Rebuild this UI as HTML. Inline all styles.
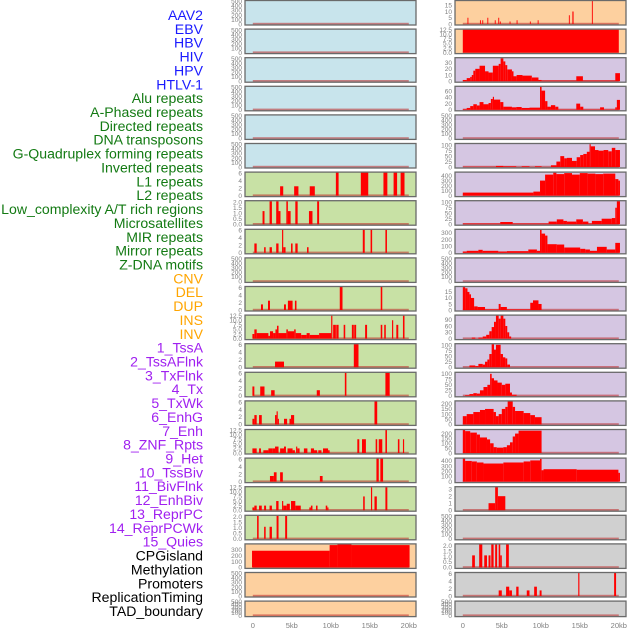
<!DOCTYPE html>
<html><head><meta charset="utf-8">
<style>
html,body{margin:0;padding:0;background:#fff;}
svg{display:block;font-family:"Liberation Sans",sans-serif;}
</style></head>
<body>
<svg id="chart" width="630" height="630" viewBox="0 0 630 630" xmlns="http://www.w3.org/2000/svg">
<g id="labels"></g>
<g id="panels"></g>
<g id="xaxes"></g>
</svg>
<script>
const trackNames = ["AAV2","EBV","HBV","HIV","HPV","HTLV-1","Alu repeats","A-Phased repeats","Directed repeats","DNA transposons","G-Quadruplex forming repeats","Inverted repeats","L1 repeats","L2 repeats","Low_complexity A/T rich regions","Microsatellites","MIR repeats","Mirror repeats","Z-DNA motifs","CNV","DEL","DUP","INS","INV","1_TssA","2_TssAFlnk","3_TxFlnk","4_Tx","5_TxWk","6_EnhG","7_Enh","8_ZNF_Rpts","9_Het","10_TssBiv","11_BivFlnk","12_EnhBiv","13_ReprPC","14_ReprPCWk","15_Quies","CPGisland","Methylation","Promoters","ReplicationTiming","TAD_boundary"];
const trackGroups = [6,13,5,15,5];
const groupColors = ["#1a1aff","#137a13","#ffa500","#a020f0","#000000"];
const xTickValues = [0,5,10,15,20];
const xTickLabels = ["0","5kb","10kb","15kb","20kb"];

const ticks500 = [0,100,200,300,400,500];
const ticks6 = [0,2,4,6];
const ticks2 = [0,0.5,1,1.5,2];
const ticks125 = [0,2.5,5,7.5,10,12.5];

const left7 = [[3.5,3.9,2.5],[5.3,5.85,2.5],[7.3,7.95,2.5],[10.65,11.0,6.2],[13.85,14.8,6.2],[16.75,17.25,6.2],[18.05,18.5,6.2],[18.95,19.45,6.2]];
const left8 = [[1.25,1.5,1.2],[2.15,2.45,2.1],[3.0,3.3,2.1],[3.3,3.55,1.2],[4.3,4.5,2.1],[4.5,4.85,1.2],[5.45,5.75,2.1],[7.2,7.65,1.2],[8.25,8.5,2.1]];
const left9 = [[0.2,0.5,2.5],[1.45,1.65,1.5],[2.15,2.45,1.5],[3.0,3.3,2.5],[3.75,3.9,6.2],[3.9,4.2,1.5],[4.9,5.1,2.5],[5.45,5.75,2.5],[6.95,7.15,1.5],[14.1,14.35,6.2],[15.1,15.3,6.2],[17.0,17.2,6.2]];
const left11 = [[1.05,1.3,1.5],[1.95,2.2,2.5],[4.0,4.25,1.5],[4.5,5.1,2.5],[5.4,5.6,2.5],[11.15,11.5,6.2],[16.4,16.6,6.2]];
const left12 = [[-0.05,0.2,2.5],[0.2,0.5,5],[0.5,2.0,3],[2.0,2.2,1.5],[2.2,2.6,4],[2.6,2.9,3],[2.9,3.1,5],[3.1,3.3,7],[3.3,4.3,3],[4.3,4.5,5],[4.5,5.3,4],[5.3,5.5,5],[5.5,6.2,3],[6.2,6.9,2],[6.9,7.3,3],[7.3,8.5,2],[8.5,9.0,3],[9.0,10.05,3],[10.05,10.2,12.5],[10.3,10.65,7.5],[10.7,11.0,7.5],[11.65,11.85,7.5],[12.7,12.95,7.5],[13.0,13.25,7.5],[14.4,14.65,7.5],[16.4,16.6,7.5],[16.85,17.05,7.5],[17.85,18.0,10],[18.4,18.65,7.5],[19.25,19.45,12.5]];
const left13 = [[2.85,4.0,1.5],[12.95,13.55,6.2]];
const left14 = [[-0.05,0.2,2.5],[0.95,1.5,2.5],[2.35,2.8,1.5],[8.2,8.6,1.5],[11.8,12.0,6.2],[17.0,17.55,6.2]];
const left15 = [[-0.05,0.2,1.5],[0.2,0.5,2.5],[0.8,1.15,2.5],[2.85,3.05,2.5],[3.05,3.2,3.5],[3.2,3.35,1.5],[4.0,4.4,1.5],[4.7,4.9,1.5],[4.9,5.3,2.5],[15.6,15.95,6.2]];
const left16 = [[-0.05,0.5,2.5],[0.8,1.05,2.5],[1.35,2.0,1.5],[2.0,2.55,2.5],[2.55,2.85,2.5],[2.85,3.3,3.5],[3.5,4.0,2.5],[4.0,4.25,3.5],[4.45,5.1,2.5],[5.1,5.4,1.5],[5.55,5.7,3.5],[5.7,6.0,2.5],[6.55,7.0,2.5],[7.45,7.85,2.5],[7.85,8.25,1.5],[8.4,8.8,1.5],[9.0,9.65,2.5],[9.65,9.85,1.5],[13.4,13.65,7.5],[14.0,14.5,7.5],[15.75,15.95,7.5],[16.15,16.6,7.5],[17.0,17.2,12.5],[18.6,18.8,7.5],[19.25,19.4,7.5]];
const left17 = [[2.2,2.7,1.5],[2.7,3.05,2.5],[3.5,3.85,2.5],[8.6,8.95,1.5],[15.85,16.15,6.2],[16.35,16.7,6.2]];
const left18 = [[-0.05,0.2,1.5],[0.2,0.5,2.5],[0.8,1.15,2.5],[1.45,1.7,2.5],[2.15,2.45,2.5],[3.0,3.3,5],[3.75,3.9,5],[3.9,4.35,2.5],[4.35,4.75,3.5],[4.9,5.45,5],[5.45,6.15,2.5],[7.25,7.45,1.5],[7.45,7.65,2.5],[8.1,8.3,2.5],[9.35,9.55,2.5],[9.55,9.7,1.5],[14.15,14.35,7.5],[15.15,15.3,12.5],[15.6,15.9,7.5],[17.0,17.25,12.5]];
const left19 = [[0.55,0.75,2.1],[1.45,1.65,1.1],[2.15,2.45,1.1],[3.05,3.3,2.1],[4.15,4.4,2.1]];
const left20 = [[-0.1,9.85,280],[9.85,10.85,375],[10.85,12.65,385],[12.65,20.1,375]];

const right1 = [[0.6,0.7,5],[2.2,2.3,3],[2.5,2.6,3],[3.15,3.25,5],[4.1,4.2,3],[4.55,4.65,5],[4.75,4.85,2],[6.0,6.1,2],[6.9,7.0,3],[8.6,8.7,2],[9.6,9.7,3],[13.6,13.7,7],[14.05,14.2,10],[16.55,16.65,18.5]];
const right2 = [[0,20,12.5]];
const right3 = [[0,0.5,2],[0.5,0.95,5],[0.95,1.15,7],[1.15,1.35,10],[1.35,1.6,17],[1.6,2.15,20],[2.15,2.85,25],[2.85,3.3,16],[3.3,3.85,14],[3.85,4.6,25],[4.6,4.85,28],[4.85,5.2,37],[5.2,5.45,32],[5.45,5.7,26],[5.7,6.3,19],[6.3,6.5,16],[6.5,6.9,8],[6.9,7.65,10],[7.65,8.85,9],[8.85,9.7,6],[9.7,10.1,2],[10.1,14.55,1],[14.55,15.4,8],[15.4,19.55,1],[19.55,20.15,13]];
const right4 = [[0,0.5,2],[0.5,0.95,6],[0.95,1.35,12],[1.35,1.8,18],[1.8,2.15,14],[2.15,2.65,25],[2.65,3.3,18],[3.3,3.6,22],[3.6,3.85,35],[3.85,4.0,42],[4.0,4.8,33],[4.8,5.2,25],[5.2,6.3,10],[6.3,6.85,8],[6.85,7.55,9],[7.55,8.55,6],[8.55,9.9,7],[9.9,10.1,75],[10.1,10.55,62],[10.55,10.85,28],[10.85,11.3,10],[11.3,11.85,15],[11.85,12.25,10],[12.25,14.55,1],[14.55,15.05,20],[15.05,15.45,10],[15.45,17.6,1],[17.6,18.1,8],[18.1,19.55,1],[19.55,19.75,8],[19.75,20.15,32]];
const right6 = [[0,4.25,1],[4.25,5.2,5],[5.2,6.85,3],[7.55,8.55,3],[9.25,10.1,3],[11.3,12.0,8],[12.0,12.5,25],[12.5,13.0,50],[13.0,13.35,40],[13.35,14.0,42],[14.0,14.6,28],[14.6,15.05,45],[15.05,15.45,55],[15.45,15.9,60],[15.9,16.25,70],[16.25,16.4,105],[16.4,16.95,95],[16.95,17.4,78],[17.4,18.05,75],[18.05,18.65,78],[18.65,19.1,72],[19.1,19.55,88],[19.55,20.15,78]];
const right7 = [[0,9.05,60],[9.05,9.9,80],[9.9,10.55,300],[10.55,11.6,420],[11.6,12.0,460],[12.0,13.0,430],[13.0,14.0,450],[14.0,15.0,420],[15.0,16.0,450],[16.0,17.0,440],[17.0,18.0,430],[18.0,19.55,440],[19.55,19.95,330],[19.95,20.15,300]];
const right8 = [[0,4.8,3],[4.8,6.4,10],[6.4,11.0,3],[11.0,12.05,12],[12.05,12.9,22],[12.9,13.35,15],[13.35,14.55,12],[14.55,15.4,22],[15.4,16.1,12],[16.1,16.55,3],[16.55,17.8,15],[17.8,19.1,25],[19.1,19.55,28],[19.55,19.75,75],[19.75,20.15,105]];
const right9 = [[0,0.5,20],[0.5,2.0,30],[2.0,2.55,45],[2.55,4.55,30],[4.55,5.65,20],[5.65,8.4,25],[8.4,9.5,50],[9.5,9.9,30],[9.9,10.1,350],[10.1,10.55,290],[10.55,10.85,260],[10.85,12.05,130],[12.05,13.0,125],[13.0,15.05,80],[15.05,15.7,60],[15.7,16.3,50],[16.3,17.2,30],[17.2,18.45,90],[18.45,19.55,50],[19.55,20.15,150]];
const right11 = [[0,0.3,19],[0.3,0.6,18],[0.6,0.85,15],[0.85,1.05,13],[1.05,1.45,10],[1.45,1.9,3],[1.9,2.85,2.5],[2.85,4.6,0.5],[4.6,4.85,5],[4.85,5.65,2.5],[5.65,8.65,0.5],[8.65,9.0,6],[9.0,9.7,8],[9.7,10.1,5]];
const right12 = [[1.15,1.6,5],[2.0,2.55,5],[2.55,3.0,10],[3.0,3.4,18],[3.4,3.7,35],[3.7,4.0,55],[4.0,4.25,80],[4.25,4.6,110],[4.6,4.85,95],[4.85,5.2,110],[5.2,5.45,95],[5.45,5.7,60],[5.7,5.95,30],[5.95,6.2,10]];
const right13 = [[0.85,1.6,8],[1.6,2.0,5],[2.0,2.55,15],[2.55,2.85,12],[2.85,3.15,25],[3.15,3.4,35],[3.4,3.7,60],[3.7,4.0,105],[4.0,4.25,80],[4.25,4.85,102],[4.85,5.15,60],[5.15,5.45,45],[5.45,5.7,40],[5.7,6.05,12]];
const right14 = [[0.3,0.85,3],[0.85,1.35,8],[1.35,1.8,12],[1.8,2.2,10],[2.2,2.65,25],[2.65,3.15,40],[3.15,3.5,50],[3.5,3.7,100],[3.7,4.0,80],[4.0,4.45,70],[4.45,5.0,60],[5.0,5.45,50],[5.45,6.05,55],[6.05,6.3,15],[6.3,6.9,5]];
const right15 = [[0,0.5,80],[0.5,1.35,100],[1.35,2.2,120],[2.2,2.85,140],[2.85,3.95,150],[3.95,4.25,120],[4.25,4.6,80],[4.6,5.0,100],[5.0,5.45,150],[5.45,5.75,170],[5.75,6.4,225],[6.4,6.7,170],[6.7,7.8,130],[7.8,8.65,110],[8.65,9.25,90],[9.25,10.1,70]];
const right16 = [[0,0.3,240],[0.3,0.95,225],[0.95,1.8,210],[1.8,2.2,190],[2.2,3.1,160],[3.1,3.5,140],[3.5,3.95,100],[3.95,4.35,60],[4.35,5.2,55],[5.2,5.65,60],[5.65,6.05,80],[6.05,6.4,110],[6.4,6.7,170],[6.7,7.15,200],[7.15,10.1,230]];
const right17 = [[0,0.3,450],[0.3,1.15,400],[1.15,1.8,390],[1.8,2.65,370],[2.65,5.2,350],[5.2,7.8,370],[7.8,8.65,390],[8.65,9.9,410],[9.9,10.1,440],[10.1,10.35,220],[10.35,14.6,240],[14.6,19.95,230],[19.95,20.15,170]];
const right18 = [[3.3,4.15,1],[4.15,4.5,3.3],[4.5,5.45,2]];
const right20 = [[1.2,1.55,1.1],[2.1,2.5,2.1],[2.75,3.1,1.1],[3.3,3.55,1.1],[3.65,3.95,2.1],[4.15,4.4,2.1],[4.6,4.8,2.1],[4.8,5.0,1.1],[5.55,5.9,2.1]];
const right21 = [[4.6,5.0,1.5],[5.55,5.95,2.5],[5.95,6.3,1.5],[6.85,7.15,2.5],[8.2,8.55,1.5],[9.15,9.5,2.5],[9.85,10.1,1.5],[14.8,14.95,6.2],[19.4,19.65,6.2]];

const BLUE="#c8e4ec", GREEN="#c8e1a5", PEACH="#fdd09f", LAV="#d5c6e2", GREY="#d0d0d0";
const leftPanels = [
 [[],520,ticks500,BLUE],[[],520,ticks500,BLUE],[[],520,ticks500,BLUE],[[],520,ticks500,BLUE],[[],520,ticks500,BLUE],[[],520,ticks500,BLUE],
 [left7,6.3,ticks6,GREEN],[left8,2.15,ticks2,GREEN],[left9,6.3,ticks6,GREEN],[[],520,ticks500,GREEN],[left11,6.3,ticks6,GREEN],
 [left12,12.8,ticks125,GREEN],[left13,6.3,ticks6,GREEN],[left14,6.3,ticks6,GREEN],[left15,6.3,ticks6,GREEN],[left16,12.8,ticks125,GREEN],
 [left17,6.3,ticks6,GREEN],[left18,12.8,ticks125,GREEN],[left19,2.15,ticks2,GREEN],
 [left20,395,[0,100,200,300],PEACH],[[],520,ticks500,PEACH],[[],520,ticks500,PEACH]
];
const rightPanels = [
 [right1,18.8,[0,5,10,15],PEACH],[right2,12.8,ticks125,PEACH],
 [right3,38,[0,10,20,30],LAV],[right4,76,[0,20,40,60],LAV],[[],520,ticks500,LAV],[right6,108,[0,25,50,75,100],LAV],
 [right7,470,[0,100,200,300,400],LAV],[right8,107,[0,25,50,75,100],LAV],[right9,355,[0,100,200,300],LAV],[[],520,ticks500,LAV],
 [right11,19.5,[0,5,10,15],LAV],[right12,112,[0,30,60,90],LAV],[right13,107,[0,25,50,75,100],LAV],[right14,107,[0,25,50,75,100],LAV],
 [right15,228,[0,50,100,150,200],LAV],[right16,242,[0,50,100,150,200],LAV],[right17,455,[0,100,200,300,400],LAV],
 [right18,3.35,[0,1,2,3],GREY],[[],520,ticks500,GREY],[right20,2.15,ticks2,GREY],[right21,6.3,ticks6,GREY],[[],520,ticks500,GREY]
];

const NS="http://www.w3.org/2000/svg";
function mk(tag, attrs, parent){const e=document.createElementNS(NS,tag);for(const k in attrs)e.setAttribute(k,attrs[k]);parent.appendChild(e);return e;}

const labG=document.getElementById('labels');
let gi=0, cnt=0;
trackNames.forEach((n,i)=>{
  while(cnt>=trackGroups[gi]){cnt-=trackGroups[gi];gi++;}
  cnt++;
  const t=mk('text',{x:203,y:20+i*13.86,'text-anchor':'end','font-size':'14.1',fill:groupColors[gi]},labG);
  
  
  t.textContent=n;
});

const pg=document.getElementById('panels');
function drawPanel(spec,i,x0,side){
  const [bars,ymax,ticks,bg]=spec;
  const top=0.5+i*28.6, h=(i===21)?15.5:24.5, w=171;
  const xs=kb=>x0+7.8+kb*7.8;
  const ys=v=>top+h-1-(v/ymax)*(h-1);
  const g=mk('g',{},pg);
  
  
  const bgR=mk('rect',{x:x0,y:top,width:w,height:h,fill:bg},g);
  
  
  mk('rect',{x:xs(0),y:top+h-2.2,width:xs(20)-xs(0),height:2,fill:'rgba(190,40,40,0.55)'},g);
  bars.forEach(b=>{
    const x1=Math.max(xs(b[0]),x0+0.5), x2=Math.min(xs(b[1]),x0+w-0.5);
    const y=Math.max(ys(Math.min(b[2],ymax)),top);
    const r=mk('rect',{x:x1,y:y,width:Math.max(x2-x1,0.9),height:top+h-1-y,fill:'#ff0000'},g);
    
    
  });
  mk('rect',{x:x0,y:top,width:w,height:h,fill:'none',stroke:'#6a6a6a','stroke-width':1.3},g);
  ticks.forEach(t=>{
    const y=ys(t);
    const tx=mk('text',{x:x0-3,y:y+2.3,'text-anchor':'end','font-size':'6.5',fill:'#808080'},g);
    
    
    tx.textContent=(ticks===ticks2||ticks===ticks125)?t.toFixed(1):String(t);
  });
}
leftPanels.forEach((s,i)=>drawPanel(s,i,245,'left'));
rightPanels.forEach((s,i)=>drawPanel(s,i,455,'right'));

const xg=document.getElementById('xaxes');
[245,455].forEach(x0=>{
  xTickValues.forEach((v,j)=>{
    const t=mk('text',{x:x0+7.8+v*7.8,y:628,'text-anchor':'middle','font-size':'7.5',fill:'#808080'},xg);
    
    
    t.textContent=xTickLabels[j];
  });
});
</script>
</body></html>
